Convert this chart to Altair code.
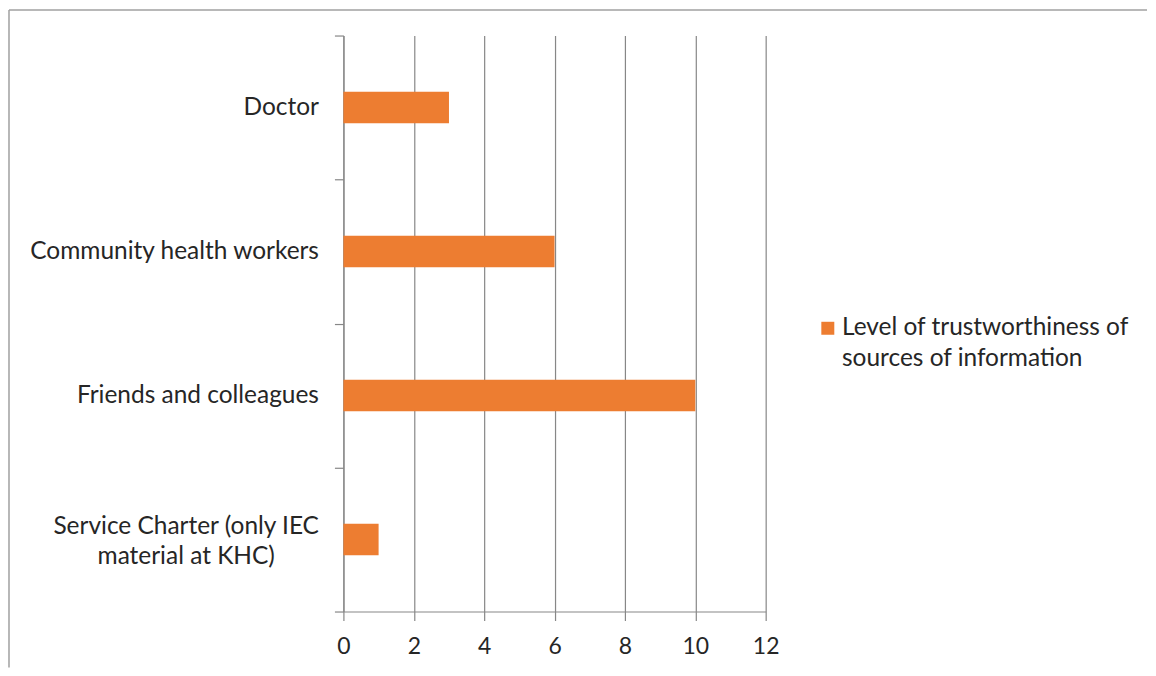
import altair as alt
import pandas as pd

categories = ["Doctor", "Community health workers", "Friends and colleagues",
              "Service Charter (only IEC material at KHC)"]
values = [3, 6, 10, 1]
series_name = "Level of trustworthiness of sources of information"
series_lines = ["Level of trustworthiness of", "sources of information"]
wrapped_label = ["Service Charter (only IEC", "material at KHC)"]
x_ticks = [0, 2, 4, 6, 8, 10, 12]

df = pd.DataFrame({"category": categories, "value": values,
                   "series": [series_name] * len(categories)})

FONT = "Lato"
TXT = "#262626"
GRID = "#878787"
W, H = 423, 577
FS = 24.5

long_name = categories[3]
test = f"datum.value == '{long_name}'"
label_expr = (f"{test} ? [" + ", ".join(f"'{s}'" for s in wrapped_label) + "] : datum.label")
legend_expr = "[" + ", ".join(f"'{s}'" for s in series_lines) + "]"

bars = alt.Chart(df).mark_bar(color="#ED7D31", height={"band": 0.22}).encode(
    x=alt.X("value:Q",
            scale=alt.Scale(domain=[0, 12], nice=False),
            axis=alt.Axis(values=x_ticks, title=None, grid=True, gridColor=GRID,
                          gridWidth=1.2, domainColor=GRID, domainWidth=1.2,
                          tickColor=GRID, tickWidth=1.2, tickSize=9,
                          labelFont=FONT, labelFontSize=23, labelColor=TXT,
                          labelPadding=15, labelFlush=False)),
    y=alt.Y("category:N", sort=categories,
            scale=alt.Scale(paddingInner=0, paddingOuter=0),
            axis=alt.Axis(title=None, grid=False, domainColor=GRID, domainWidth=1.2,
                          tickColor=GRID, tickWidth=1.2, tickSize=9, tickBand="extent",
                          labelFont=FONT, labelFontSize=FS, labelColor=TXT,
                          labelExpr=label_expr, labelLimit=400,
                          labelLineHeight=31,
                          labelAlign={"condition": {"test": test, "value": "center"},
                                      "value": "right"},
                          labelOffset={"condition": {"test": test, "value": -13.5},
                                       "value": 0},
                          labelPadding={"condition": {"test": test, "value": 149},
                                        "value": 16})),
    color=alt.Color("series:N",
                    scale=alt.Scale(range=["#ED7D31"]),
                    legend=alt.Legend(title=None, orient="none", legendX=473, legendY=281,
                                      symbolType="square", symbolSize=169,
                                      symbolStrokeWidth=0, padding=0,
                                      labelFont=FONT, labelFontSize=FS, labelColor=TXT,
                                      labelExpr=legend_expr, labelOffset=2,
                                      labelLimit=400)),
)

frame_data = alt.Data(values=[{"k": 1}])
top_line = alt.Chart(frame_data).mark_rule(color="#a0a0a0", strokeWidth=1.5).encode(
    x=alt.value(-335), x2=alt.value(805), y=alt.value(-25.5))
left_line = alt.Chart(frame_data).mark_rule(color="#a0a0a0", strokeWidth=1.5).encode(
    x=alt.value(-335), y=alt.value(-25.5), y2=alt.value(633))

chart = alt.layer(bars, top_line, left_line).properties(
    width=W, height=H, padding=0
).configure(style={"guide-label": {"lineHeight": 31}}).configure_view(strokeWidth=0)

chart.save("out.html", embed_options={"renderer": "svg", "actions": False})
